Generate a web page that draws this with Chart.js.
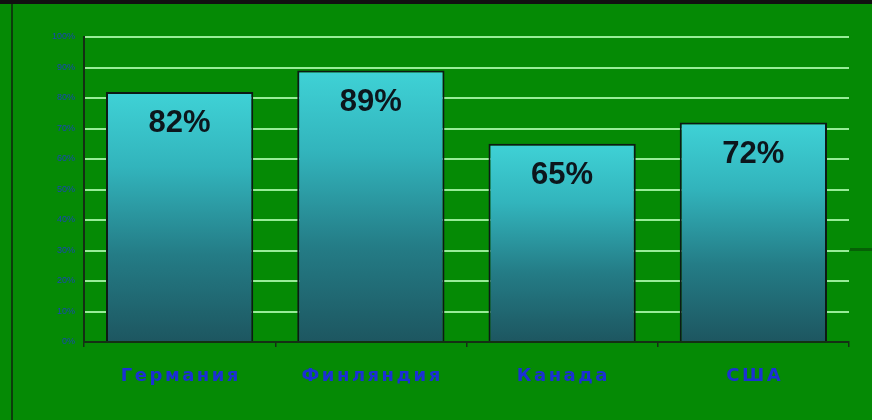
<!DOCTYPE html>
<html>
<head>
<meta charset="utf-8">
<script src="https://cdn.jsdelivr.net/npm/chart.js@4"></script>
<style>
  html, body { margin: 0; padding: 0; background: #058a05; }
  canvas { display: block; }
</style>
</head>
<body>
<canvas id="chart" width="872" height="420"></canvas>
<script>
// countries and share values (percent)
const countries = ['Германия', 'Финляндия', 'Канада', 'США'];
const shares = [82, 89, 65, 72];
const yTicks = [0, 10, 20, 30, 40, 50, 60, 70, 80, 90, 100];

// slide frame: black strip on top, dark rule on the left
const framePlugin = {
    id: 'frame',
    beforeDraw(chart) {
        const ctx = chart.ctx;
        ctx.save();
        ctx.fillStyle = '#058a05';
        ctx.fillRect(0, 0, chart.width, chart.height);
        ctx.fillStyle = '#111';
        ctx.fillRect(0, 0, chart.width, 4);
        ctx.fillStyle = '#0b3d0b';
        ctx.fillRect(11, 4, 2, chart.height - 4);
        ctx.fillStyle = '#066006';
        ctx.fillRect(chart.chartArea.right + 1, 248, chart.width, 3);
        ctx.restore();
    }
};

// value labels inside the bars and spaced-out category names
const labelPlugin = {
    id: 'labels',
    afterDatasetsDraw(chart) {
        const ctx = chart.ctx;
        const meta = chart.getDatasetMeta(0);
        ctx.save();
        ctx.font = 'bold 31px "Liberation Sans", Arial, sans-serif';
        ctx.fillStyle = '#0c161c';
        ctx.textAlign = 'center';
        ctx.textBaseline = 'middle';
        meta.data.forEach((bar, i) => {
            ctx.fillText(shares[i] + '%', bar.x, bar.y + 32);
        });

        const x = chart.scales.x;
        ctx.font = 'bold 18px "DejaVu Sans", sans-serif';
        ctx.fillStyle = '#1b30d4';
        ctx.letterSpacing = '2.5px';
        countries.forEach((name, i) => {
            ctx.fillText(name, x.getPixelForValue(i) + 1.25, 376);
        });
        ctx.restore();
    }
};

function barGradient(c) {
    const chart = c.chart;
    if (!chart.chartArea) return '#30b8c0';
    const y = chart.scales.y;
    const top = y.getPixelForValue(c.raw);
    const bottom = y.getPixelForValue(0);
    const g = chart.ctx.createLinearGradient(0, top, 0, bottom);
    g.addColorStop(0, '#3fd2d6');
    g.addColorStop(0.3, '#32b4bc');
    g.addColorStop(0.65, '#247c86');
    g.addColorStop(1, '#1d5660');
    return g;
}

new Chart(document.getElementById('chart'), {
    type: 'bar',
    data: {
        labels: countries,
        datasets: [{
            data: shares,
            backgroundColor: barGradient,
            borderColor: '#0d1a14',
            borderWidth: 2,
            categoryPercentage: 0.77,
            barPercentage: 1
        }]
    },
    options: {
        responsive: false,
        animation: false,
        layout: { padding: { top: 37, right: 23, left: 0, bottom: 0 } },
        plugins: {
            legend: { display: false },
            tooltip: { enabled: false }
        },
        scales: {
            x: {
                afterFit: s => { s.height = 78; },
                grid: {
                    drawOnChartArea: false,
                    drawTicks: true,
                    tickLength: 5,
                    color: '#143014',
                    lineWidth: 1.5
                },
                border: { color: '#143014', width: 2 },
                ticks: { display: false }
            },
            y: {
                min: 0,
                max: 100,
                afterFit: s => { s.width = 84; },
                afterBuildTicks: s => { s.ticks = yTicks.map(v => ({ value: v })); },
                grid: {
                    drawTicks: false,
                    lineWidth: 2,
                    color: c => c.tick && c.tick.value === 0 ? 'rgba(0,0,0,0)' : '#98ec98'
                },
                border: { color: '#143014', width: 2 },
                ticks: {
                    padding: 9,
                    color: '#1a46b4',
                    font: { size: 9, family: '"Liberation Sans", Arial, sans-serif' },
                    callback: v => v + '%'
                }
            }
        }
    },
    plugins: [framePlugin, labelPlugin]
});
</script>
</body>
</html>
